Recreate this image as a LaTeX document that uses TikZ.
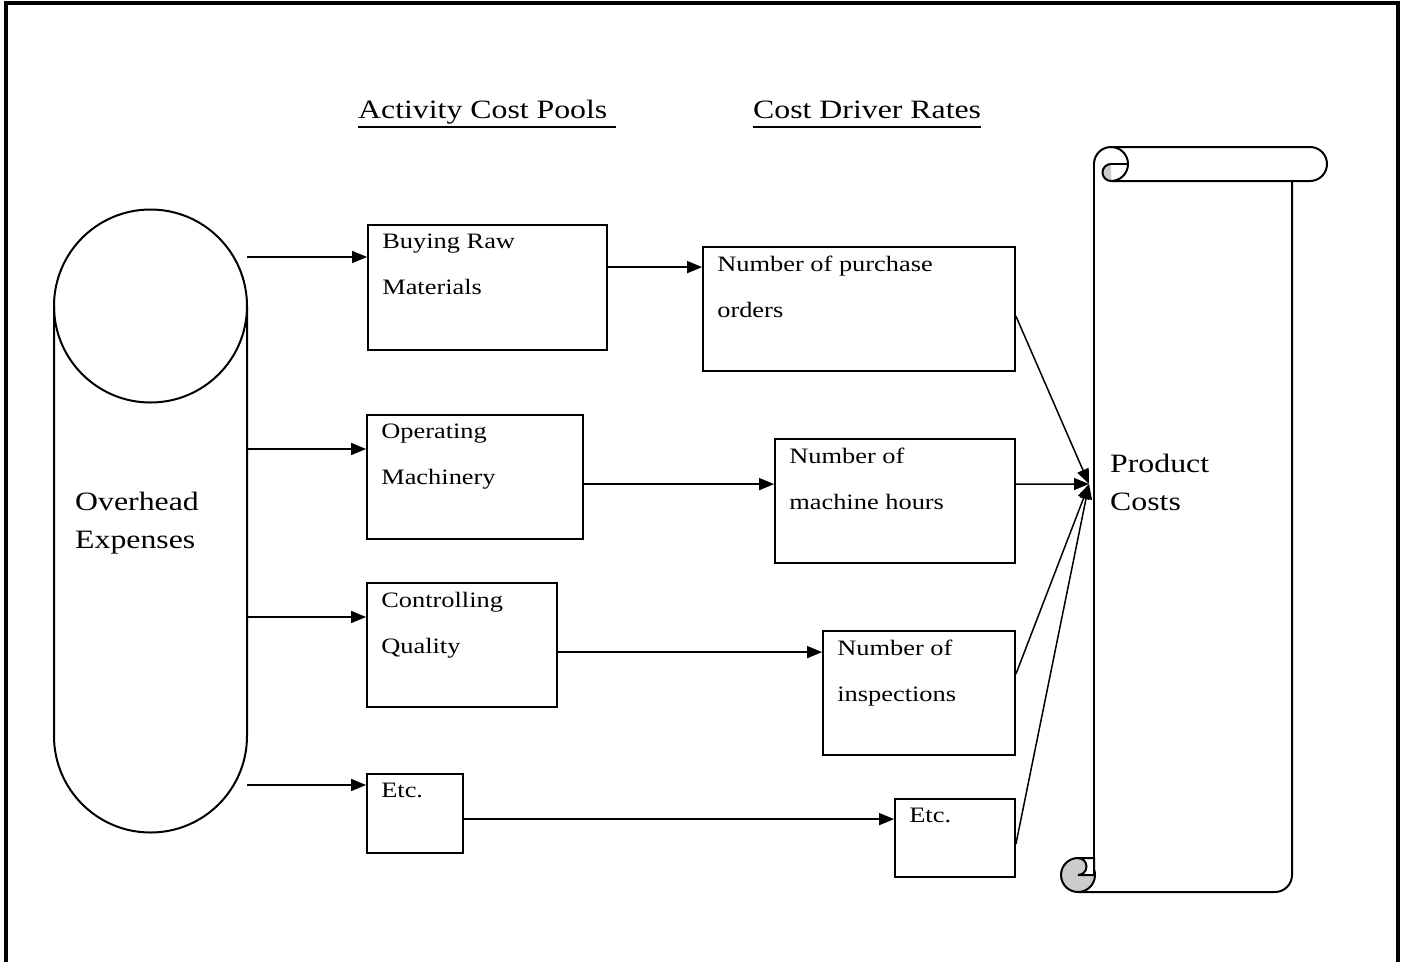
\documentclass[tikz,border=0pt]{standalone}
\usepackage{fontspec}
\setmainfont{Liberation Serif}[FakeStretch=1.2]
\usetikzlibrary{arrows.meta}
\newcommand\bigtext{\fontsize{26.5}{38}\selectfont}
\newcommand\smalltext{\fontsize{22}{46}\selectfont}

\begin{document}
\begin{tikzpicture}[x=1pt,y=-1pt,
  pool/.style={draw, line width=1.8pt, inner sep=0pt},
  boxlabel/.style={anchor=north west, inner sep=0pt, align=left, font=\smalltext},
  arr/.style={line width=1.5pt, -{Triangle[length=15pt,width=12pt]}},
  cyl/.style={line width=2pt}]
 \useasboundingbox (0,0) rectangle (1403,962);
 \draw [line width=3.5pt] (6,962) -- (6,3) -- (1398,3) -- (1398,962);

 % headings
 \node [anchor=base west, inner sep=0pt, text depth=9pt, font=\bigtext] (hpools) at (358,118) {Activity Cost Pools\hspace*{8pt}};
 \node [anchor=base west, inner sep=0pt, text depth=9pt, font=\bigtext] (hrates) at (753,118) {Cost Driver Rates};
 \draw [line width=2pt] (hpools.south west) -- (hpools.south east);
 \draw [line width=2pt] (hrates.south west) -- (hrates.south east);

 % overhead cylinder
 \draw [cyl] (150.5,306) circle (96.5);
 \draw [cyl] (54,306) -- (54,736) arc[start angle=180, end angle=0, radius=96.5] -- (247,306);
 \node [anchor=north west, inner sep=0pt, align=left, font=\bigtext] (overhead) at (75,492) {Overhead\\Expenses};
 \coordinate (oh1) at (247,257);
 \coordinate (oh2) at (247,449);
 \coordinate (oh3) at (247,617);
 \coordinate (oh4) at (247,785);

 % activity cost pools
 \node [pool, minimum width=239pt, minimum height=125pt] (buying) at (487.5,287.5) {};
 \node [pool, minimum width=216pt, minimum height=124pt] (operating) at (475,477) {};
 \node [pool, minimum width=190pt, minimum height=124pt] (quality) at (462,645) {};
 \node [pool, minimum width=96pt, minimum height=79pt] (etcpool) at (415,813.5) {};
 \node [boxlabel] (buyingtext) at ([xshift=15pt,yshift=-10pt]buying.north west) {Buying Raw\\Materials};
 \node [boxlabel] (operatingtext) at ([xshift=15pt,yshift=-10pt]operating.north west) {Operating\\Machinery};
 \node [boxlabel] (qualitytext) at ([xshift=15pt,yshift=-10pt]quality.north west) {Controlling\\Quality};
 \node [boxlabel] (etcpooltext) at ([xshift=15pt,yshift=-10pt]etcpool.north west) {Etc.};

 % cost driver rates
 \node [pool, minimum width=312pt, minimum height=124pt] (orders) at (859,309) {};
 \node [pool, minimum width=240pt, minimum height=124pt] (hours) at (895,501) {};
 \node [pool, minimum width=192pt, minimum height=124pt] (inspections) at (919,693) {};
 \node [pool, minimum width=120pt, minimum height=78pt] (etcrate) at (955,838) {};
 \node [boxlabel] (orderstext) at ([xshift=15pt,yshift=-10pt]orders.north west) {Number of purchase\\orders};
 \node [boxlabel] (hourstext) at ([xshift=15pt,yshift=-10pt]hours.north west) {Number of\\machine hours};
 \node [boxlabel] (inspectionstext) at ([xshift=15pt,yshift=-10pt]inspections.north west) {Number of\\inspections};
 \node [boxlabel] (etcratetext) at ([xshift=15pt,yshift=-10pt]etcrate.north west) {Etc.};

 % product costs scroll
 \draw [cyl] (1094,164) -- (1094,875);
 \draw [cyl] (1292,181) -- (1292,875) arc[start angle=0, end angle=90, radius=17] -- (1078,892);
 \draw [cyl] (1111,147) -- (1310,147) arc[start angle=-90, end angle=90, radius=17] -- (1111,181);
 \draw [cyl] (1094,164) arc[start angle=180, end angle=450, radius=17];
 \draw [cyl] (1111,164) -- (1128,164);
 \fill [gray!40] (1111,164) arc[start angle=-90, end angle=-270, radius=8.5] -- cycle;
 \draw [cyl] (1111,164) arc[start angle=-90, end angle=-270, radius=8.5];
 \filldraw [cyl, fill=gray!40] (1078,875) circle (17);
 \filldraw [cyl, fill=white] (1078,858) -- (1094,858) -- (1094,875) -- (1078,875) arc[start angle=90, end angle=-90, radius=8.5];
 \node [anchor=north west, inner sep=0pt, align=left, font=\bigtext] (product) at (1110,454) {Product\\Costs};
 \coordinate (pc) at (1089,484);

 % arrows
 \draw [arr] (oh1) -- (oh1 -| buying.west);
 \draw [arr] (oh2) -- (oh2 -| operating.west);
 \draw [arr] (oh3) -- (oh3 -| quality.west);
 \draw [arr] (oh4) -- (oh4 -| etcpool.west);
 \draw [arr] ([yshift=-43pt]buying.north east) -- ([yshift=-21pt]orders.north west);
 \draw [arr] ([yshift=-70pt]operating.north east) -- ([yshift=-46pt]hours.north west);
 \draw [arr] ([yshift=-70pt]quality.north east) -- ([yshift=-22pt]inspections.north west);
 \draw [arr] ([yshift=-46pt]etcpool.north east) -- ([yshift=-21pt]etcrate.north west);
 \draw [arr] ([yshift=-70pt]orders.north east) -- (pc);
 \draw [arr] ([yshift=-46pt]hours.north east) -- (pc);
 \draw [arr] ([yshift=-44pt]inspections.north east) -- (pc);
 \draw [arr] ([yshift=-46pt]etcrate.north east) -- (pc);
\end{tikzpicture}
\end{document}
